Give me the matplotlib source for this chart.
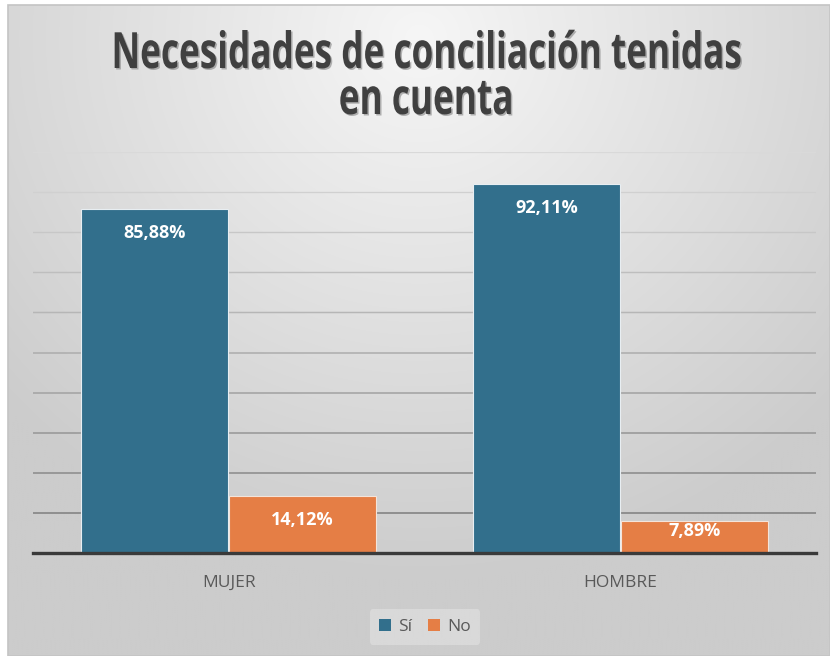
import numpy as np
import matplotlib
matplotlib.use("Agg")
import matplotlib.pyplot as plt
from matplotlib import patheffects as pe
from matplotlib.colors import to_rgb
from matplotlib.patches import Patch, Rectangle
from matplotlib.transforms import Affine2D

categories = ["MUJER", "HOMBRE"]
series_names = ["Sí", "No"]
si_values = [85.88, 92.11]
no_values = [14.12, 7.89]
value_labels_si = ["85,88%", "92,11%"]
value_labels_no = ["14,12%", "7,89%"]
title_lines = ["Necesidades de conciliación tenidas", "en cuenta"]

W, H = 830, 656
fig = plt.figure(figsize=(W / 100, H / 100), dpi=100, facecolor="white")


class NarrowShadowed(pe.AbstractPathEffect):
    """Draw text rescaled about (cx, cy) - narrow and tall - with a drop shadow."""

    def __init__(self, sx, sy, cx, cy, shadow_offset=(1.5, -1.5),
                 shadow_color="#7a7a7a", shadow_alpha=0.55):
        super().__init__()
        self.sx, self.sy = sx, sy
        self.cx, self.cy = cx, cy
        self.so = shadow_offset
        self.sc = to_rgb(shadow_color)
        self.sa = shadow_alpha

    def draw_path(self, renderer, gc, tpath, affine, rgbFace=None):
        squeeze = (Affine2D().translate(-self.cx, -self.cy)
                   .scale(self.sx, self.sy).translate(self.cx, self.cy))
        a = affine + squeeze
        gc0 = renderer.new_gc()
        gc0.copy_properties(gc)
        gc0.set_foreground(self.sc)
        gc0.set_alpha(self.sa)
        gc0.set_linewidth(0)
        renderer.draw_path(gc0, tpath, a + Affine2D().translate(*self.so), self.sc)
        gc0.restore()
        renderer.draw_path(gc, tpath, a, rgbFace)


# chart-area background: soft radial grey gradient, brightest near top centre
bg = fig.add_axes([8 / W, 0, (W - 8) / W, (H - 5) / H], zorder=0)
yy, xx = np.mgrid[0:1:300j, 0:1:400j]
d = np.sqrt(((xx - 0.5) * 1.1) ** 2 + ((yy - 0.05) * 0.9) ** 2)
shade = np.clip(0.965 - 0.22 * d, 0.80, 0.97)
bg.imshow(np.dstack([shade] * 3), aspect="auto", extent=[0, 1, 1, 0],
          interpolation="bilinear")
bg.set_axis_off()
fig.add_artist(Rectangle((8 / W, 0), (W - 8) / W, (H - 5) / H,
                         transform=fig.transFigure, fill=False,
                         edgecolor="#c4c4c4", linewidth=1.2, zorder=1))

ax = fig.add_axes([33 / W, (H - 553) / H, 783 / W, 401 / H], zorder=2)
ax.patch.set_alpha(0)

x = np.arange(len(categories)) + 0.5
bw = 0.375
gap = 0.0013
c_si = "#326f8c"
c_no = "#e57e45"
ax.bar(x - bw / 2 - gap, si_values, bw, color=c_si, edgecolor="#e8eef2",
       linewidth=0.8, zorder=3)
ax.bar(x + bw / 2 + gap, no_values, bw, color=c_no, edgecolor="#f4e4da",
       linewidth=0.8, zorder=3)

lab_kw = dict(ha="center", va="center", color="white", fontsize=13,
              fontweight="bold", family=["Open Sans", "DejaVu Sans"], zorder=4)
for xi, v, t in zip(x - bw / 2 - gap, si_values, value_labels_si):
    ax.text(xi, max(v - 6.0, 5.5), t, **lab_kw)
for xi, v, t in zip(x + bw / 2 + gap, no_values, value_labels_no):
    ax.text(xi, max(v - 6.0, 5.5), t, **lab_kw)

ax.set_xlim(0, len(categories))
ax.set_ylim(0, 100)
ax.set_yticks([])
# horizontal gridlines fade from mid grey near the baseline to pale at the top
levels = np.arange(10, 101, 10)
for lvl in levels:
    g = 0.54 + (0.85 - 0.54) * (lvl - 10) / 90
    ax.axhline(lvl, color=(g, g, g), linewidth=1.3 - 0.4 * (lvl - 10) / 90,
               zorder=1)
ax.set_xticks(x)
ax.set_xticklabels(categories, fontsize=12.5, color="#595959",
                   family=["Open Sans", "DejaVu Sans"])
ax.tick_params(axis="x", length=0, pad=16)
for s in ["top", "right", "left"]:
    ax.spines[s].set_visible(False)
ax.spines["bottom"].set_color("#3a3a3a")
ax.spines["bottom"].set_linewidth(2.4)
ax.spines["bottom"].set_zorder(5)

# title: bold, reshaped to a narrow tall face, two centred lines
cx = 426
base_size = 28
sy = 36 / base_size
title_kw = dict(ha="center", va="baseline", fontsize=base_size,
                fontweight="bold", color="#404040",
                family=["Open Sans", "DejaVu Sans"])
baselines = [68, 114]
texts = [fig.text(cx / W, 1 - b / H, s, **title_kw)
         for b, s in zip(baselines, title_lines)]
fig.canvas.draw()
sx = 629.0 / texts[0].get_window_extent().width
for t, b in zip(texts, baselines):
    t.set_path_effects([NarrowShadowed(sx, sy, cx, H - b)])

handles = [Patch(facecolor=c_si), Patch(facecolor=c_no)]
leg = fig.legend(handles, series_names, loc="center", ncol=2,
                 bbox_to_anchor=(425 / W, 1 - 627 / H), frameon=True,
                 prop={"family": ["Open Sans", "DejaVu Sans"], "size": 12.5},
                 handlelength=0.7, handleheight=0.7, handletextpad=0.4,
                 columnspacing=0.9, borderpad=0.55)
leg.get_frame().set_facecolor("#e2e2e2")
leg.get_frame().set_edgecolor("none")
leg.get_frame().set_alpha(0.6)
for t in leg.get_texts():
    t.set_color("#595959")

fig.savefig("out.png", dpi=100, facecolor="white")
